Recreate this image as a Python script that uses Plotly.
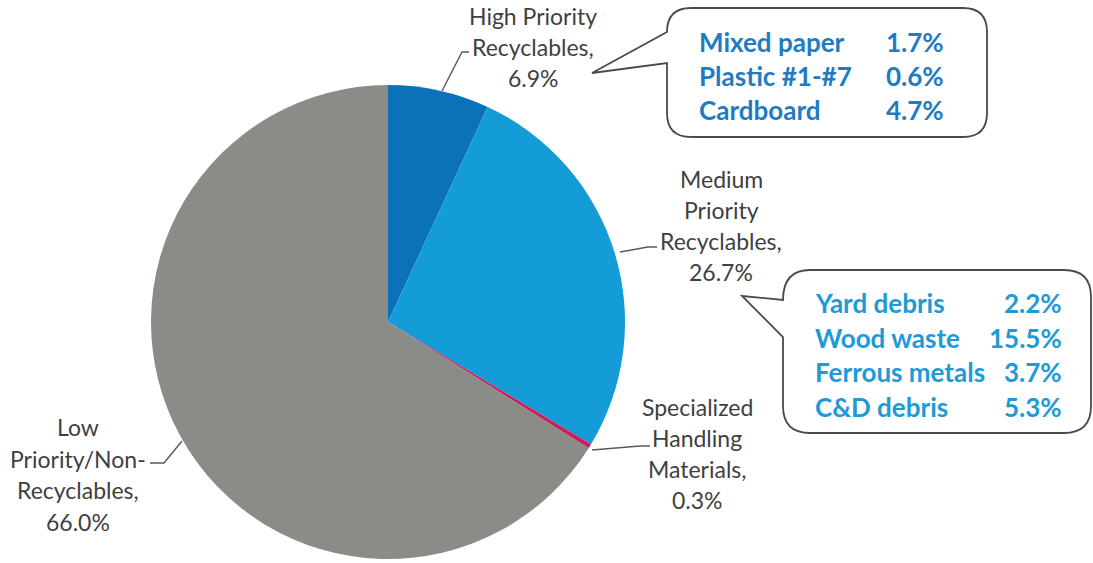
import plotly.graph_objects as go

# Waste composition by recycling priority
categories = [
    "High Priority Recyclables",
    "Medium Priority Recyclables",
    "Specialized Handling Materials",
    "Low Priority/Non-Recyclables",
]
shares = [6.9, 26.7, 0.3, 66.0]
label_lines = [
    ["High Priority", "Recyclables,"],
    ["Medium", "Priority", "Recyclables,"],
    ["Specialized", "Handling", "Materials,"],
    ["Low", "Priority/Non-", "Recyclables,"],
]
slice_colors = ["#0B71B8", "#149CD8", "#C8205E", "#8B8B88"]

# Breakdown of the two recyclable groups
high_items = ["Mixed paper", "Plastic #1-#7", "Cardboard"]
high_values = [1.7, 0.6, 4.7]
medium_items = ["Yard debris", "Wood waste", "Ferrous metals", "C&D debris"]
medium_values = [2.2, 15.5, 3.7, 5.3]

W, H = 1093, 563
CX, CY, R = 388, 322, 237

fig = go.Figure()
fig.add_trace(go.Pie(
    labels=categories,
    values=shares,
    sort=False,
    direction="clockwise",
    rotation=0,
    marker=dict(colors=slice_colors, line=dict(width=0)),
    textinfo="none",
    hoverinfo="label+percent",
    showlegend=False,
    domain=dict(x=[(CX - R) / W, (CX + R) / W],
                y=[1 - (CY + R) / H, 1 - (CY - R) / H]),
))

LABEL_FONT = dict(family="Lato, Calibri, sans-serif", size=23, color="#3F3F3F")
BOX_FONT = "Lato, Calibri, sans-serif"
LINE_COLOR = "#595959"

annotations = []
shapes = []

# Category labels: centre x, first line y, line step
label_pos = [(533, 16, 31), (721, 179, 31), (697, 407, 31), (78, 427, 31.5)]
for lines, val, (lx, ly, step) in zip(label_lines, shares, label_pos):
    all_lines = lines + [f"{val:.1f}%"]
    for i, txt in enumerate(all_lines):
        annotations.append(dict(
            x=lx, y=ly + i * step, xref="x", yref="y", text=txt,
            showarrow=False, xanchor="center", yanchor="middle", font=LABEL_FONT,
        ))

# Leader lines from slices to their labels
leaders = [
    "M 442,91 L 462,52 L 469,52",
    "M 620,252 L 648,247 L 657,247",
    "M 592,450 L 640,446 L 650,446",
    "M 182,441 L 164,463 L 150,463",
]
for p in leaders:
    shapes.append(dict(type="path", path=p, xref="x", yref="y",
                       line=dict(color=LINE_COLOR, width=1.4)))

# Callout bubbles
callout1 = ("M 691,8 L 963,8 Q 987,8 987,32 L 987,113 Q 987,137 963,137 "
            "L 691,137 Q 667,137 667,113 L 667,63 L 592,73 L 667,32 Q 667,8 691,8 Z")
callout2 = ("M 810,270 L 1064,270 Q 1091,270 1091,297 L 1091,406 Q 1091,433 1064,433 "
            "L 810,433 Q 783,433 783,406 L 783,337 L 742,296 L 783,300 Q 783,270 810,270 Z")
for p in (callout1, callout2):
    shapes.append(dict(type="path", path=p, xref="x", yref="y",
                       fillcolor="white", line=dict(color="#4A4A4A", width=1.8)))


def add_table(items, values, x_left, x_right, y0, step, color):
    for i, (name, v) in enumerate(zip(items, values)):
        y = y0 + i * step
        annotations.append(dict(
            x=x_left, y=y, xref="x", yref="y", text=f"<b>{name}</b>",
            showarrow=False, xanchor="left", yanchor="middle",
            font=dict(family=BOX_FONT, size=26, color=color),
        ))
        annotations.append(dict(
            x=x_right, y=y, xref="x", yref="y", text=f"<b>{v:.1f}%</b>",
            showarrow=False, xanchor="right", yanchor="middle",
            font=dict(family=BOX_FONT, size=26, color=color),
        ))


add_table(high_items, high_values, 697, 946, 42, 34, "#1F7CC2")
add_table(medium_items, medium_values, 813, 1064, 303, 34.7, "#1E9AD8")

fig.update_layout(
    width=W, height=H,
    margin=dict(l=0, r=0, t=0, b=0),
    paper_bgcolor="white", plot_bgcolor="rgba(0,0,0,0)",
    xaxis=dict(range=[0, W], visible=False, fixedrange=True),
    yaxis=dict(range=[H, 0], visible=False, fixedrange=True),
    shapes=shapes,
    annotations=annotations,
)

fig.write_html("out.html")
